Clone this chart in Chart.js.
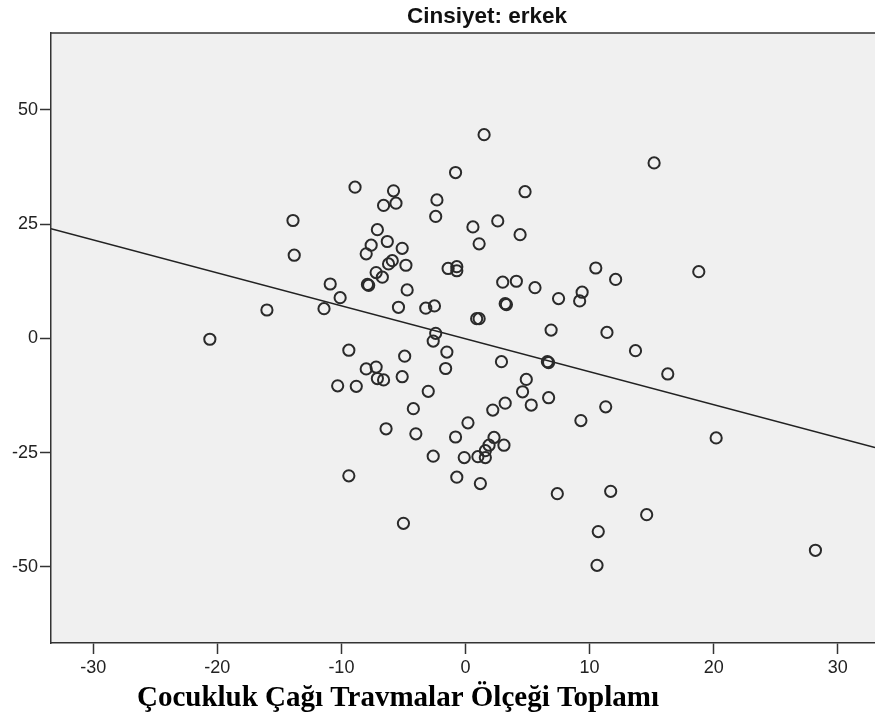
<!DOCTYPE html><html lang="tr"><head><meta charset="utf-8">
<title>Cinsiyet: erkek</title>
<script src="https://cdn.jsdelivr.net/npm/chart.js@4/dist/chart.umd.min.js"></script>
<style>
html, body { margin: 0; padding: 0; background: #fff; overflow: hidden; }
canvas { display: block; }
</style>
</head><body>
<canvas id="myChart" width="875" height="719"></canvas>
<script>
// scatter values
const xs = [-20.6,-16.0,-13.9,-13.8,-11.4,-10.9,-10.1,-10.3,-9.4,-9.4,
  -8.9,-8.8,-8.0,-7.9,-7.8,-8.0,-7.6,-7.2,-7.2,-7.1,
  -7.1,-6.6,-6.7,-6.6,-6.4,-6.3,-6.2,-5.9,-5.8,-5.6,
  -5.4,-5.1,-5.1,-5.0,-4.9,-4.8,-4.7,-4.2,-4.0,-3.2,
  -3.0,-2.6,-2.5,-2.4,-2.3,-2.4,-2.6,-1.5,-1.6,-1.4,
  -0.8,-0.8,-0.7,-0.7,-0.7,-0.1,0.2,0.6,0.9,1.1,
  1.1,1.0,1.2,1.5,1.6,1.6,1.9,2.2,2.3,2.6,
  2.9,3.0,3.1,3.2,3.2,3.3,4.1,4.4,4.6,4.8,
  4.9,5.3,5.6,6.6,6.7,6.7,6.9,7.4,7.5,9.2,
  9.4,9.3,10.5,10.6,10.7,11.3,11.4,11.7,12.1,13.7,
  14.6,15.2,16.3,18.8,20.2,28.2];
const ys = [-0.2,6.2,25.8,18.2,6.5,11.9,8.9,-10.4,-2.6,-30.1,
  33.1,-10.5,18.5,11.8,11.6,-6.7,20.4,-6.3,14.4,23.8,
  -8.8,-9.1,13.4,29.1,-19.8,21.2,16.3,17.0,32.3,29.6,
  6.8,19.7,-8.4,-40.5,-3.9,16.0,10.6,-15.4,-20.9,6.6,
  -11.6,-25.8,7.1,26.7,30.3,1.1,-0.6,-3.0,-6.6,15.3,
  36.3,-21.6,15.7,14.8,-30.4,-26.1,-18.5,24.4,4.3,4.3,
  20.7,-25.9,-31.8,44.6,-24.6,-26.1,-23.4,-15.7,-21.7,25.7,
  -5.1,12.3,-23.4,-14.2,7.6,7.4,12.5,22.7,-11.7,32.1,
  -9.0,-14.6,11.1,-5.1,-5.3,-13.0,1.8,-34.0,8.7,8.2,
  10.1,-18.0,15.4,-49.7,-42.3,-15.0,1.3,-33.5,12.9,-2.7,
  -38.6,38.4,-7.8,14.6,-21.8,-46.4];

// fit line, ends at the plot edges
const lineX = [-33.4, 33.0];
const lineY = [24.0, -23.9];

const xTicks = [-30, -20, -10, 0, 10, 20, 30];
const yTicks = [-50, -25, 0, 25, 50];

const titleText = "Cinsiyet: erkek";
const xTitle = "Çocukluk Çağı Travmalar Ölçeği Toplamı";

const points = xs.map((x, i) => ({ x, y: ys[i] }));
const line = lineX.map((x, i) => ({ x, y: lineY[i] }));

const frame = {
  id: "frame",
  beforeDraw(chart) {
    const { ctx, chartArea: a } = chart;
    ctx.save();
    ctx.fillStyle = "#f0f0f0";
    ctx.fillRect(a.left, a.top, a.right - a.left, a.bottom - a.top);
    ctx.restore();
  },
  afterDraw(chart) {
    const { ctx, chartArea: a } = chart;
    ctx.save();
    ctx.strokeStyle = "#333";
    ctx.lineWidth = 1.5;
    ctx.beginPath();
    ctx.moveTo(a.left, a.top);
    ctx.lineTo(a.right, a.top);
    ctx.stroke();
    ctx.fillStyle = "#111";
    ctx.textAlign = "center";
    ctx.textBaseline = "alphabetic";
    ctx.font = "bold 22.5px 'Liberation Sans', Arial, sans-serif";
    ctx.fillText(titleText, 487, 23);
    ctx.fillStyle = "#000";
    ctx.font = "bold 29px 'Liberation Serif', 'Times New Roman', serif";
    ctx.fillText(xTitle, 398, 706);
    ctx.restore();
  }
};

const tickFont = { family: "'Liberation Sans', Arial, sans-serif", size: 18 };

new Chart(document.getElementById("myChart"), {
  type: "scatter",
  data: {
    datasets: [
      {
        data: points,
        pointStyle: "circle",
        pointRadius: 5.6,
        pointBorderWidth: 2,
        pointBorderColor: "#2a2a2a",
        pointBackgroundColor: "rgba(0,0,0,0)",
        showLine: false,
      },
      {
        data: line,
        showLine: true,
        borderColor: "#222",
        borderWidth: 1.6,
        pointRadius: 0,
        fill: false,
      },
    ],
  },
  options: {
    responsive: false,
    animation: false,
    layout: { autoPadding: false, padding: { top: 33, right: 0, left: 0, bottom: 0 } },
    plugins: {
      legend: { display: false },
      title: { display: false },
      tooltip: { enabled: false },
    },
    scales: {
      x: {
        type: "linear",
        min: -33.4,
        max: 33.0,
        afterBuildTicks: (s) => { s.ticks = xTicks.map(v => ({ value: v })); },
        afterFit: (s) => { s.height = 76; s.paddingLeft = 0; s.paddingRight = 0; },
        grid: { drawOnChartArea: false, tickLength: 11, tickColor: "#333", tickWidth: 1.5 },
        border: { color: "#333", width: 1.5 },
        ticks: { color: "#222", font: tickFont, padding: 3, maxRotation: 0, callback: v => String(v) },
      },
      y: {
        type: "linear",
        min: -66.7,
        max: 66.85,
        afterBuildTicks: (s) => { s.ticks = yTicks.map(v => ({ value: v })); },
        afterFit: (s) => { s.width = 51; s.paddingTop = 0; s.paddingBottom = 0; },
        grid: { drawOnChartArea: false, tickLength: 11, tickColor: "#333", tickWidth: 1.5 },
        border: { color: "#333", width: 1.5 },
        ticks: { color: "#222", font: tickFont, padding: 2, callback: v => String(v) },
      },
    },
  },
  plugins: [frame],
});
</script>
</body></html>
